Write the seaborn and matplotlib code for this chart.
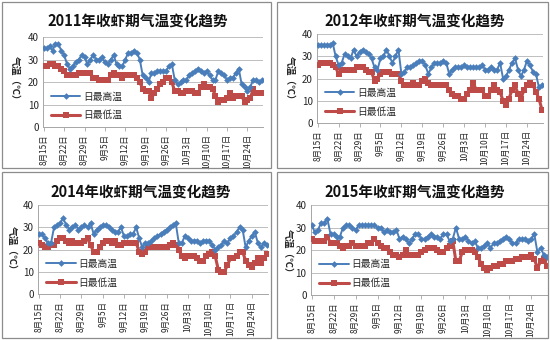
import pandas as pd
import matplotlib
matplotlib.use("Agg")
import matplotlib.pyplot as plt
import seaborn as sns
from matplotlib.patches import Rectangle

sns.set_theme(style="white")
plt.rcParams['font.family'] = ['Noto Sans CJK SC', 'DejaVu Sans']
plt.rcParams['axes.unicode_minus'] = False

# Daily categories: Aug 15 – Oct 29
dates = pd.date_range("2011-08-15", periods=76, freq="D")
categories = [f"{d.month}月{d.day}日" for d in dates]
tick_step = 7
tick_labels = categories[::tick_step]

series_high = "日最高温"
series_low = "日最低温"
y_label = "气温（℃）"
y_ticks = [0, 10, 20, 30, 40]

years = ["2011", "2012", "2014", "2015"]

high_2011 = [35, 35, 36, 34, 37, 37, 34, 32, 28, 26, 27, 29, 30, 32, 31, 28, 30, 32, 30, 30,
             31, 29, 28, 30, 32, 28, 27, 27, 30, 33, 33, 34, 33, 30, 23, 22, 20, 24, 24, 25,
             25, 25, 25, 27, 28, 21, 19, 20, 21, 21, 23, 24, 25, 26, 25, 24, 25, 23, 21, 21,
             25, 24, 23, 21, 22, 22, 24, 26, 19, 18, 16, 18, 21, 21, 20, 21]
low_2011 = [27, 27, 28, 28, 27, 27, 26, 25, 23, 23, 23, 23, 24, 24, 24, 24, 24, 22, 22, 21,
            21, 21, 21, 23, 24, 23, 23, 22, 23, 23, 23, 23, 22, 20, 17, 16, 16, 13, 15, 17,
            19, 20, 22, 22, 20, 16, 16, 15, 15, 16, 16, 16, 15, 15, 18, 19, 18, 18, 17, 14,
            11, 12, 12, 13, 15, 13, 14, 14, 14, 11, 12, 13, 17, 15, 15, 15]

high_2012 = [35, 35, 35, 35, 35, 36, 30, 26, 27, 31, 30, 29, 33, 30, 32, 33, 32, 31, 29, 25,
             24, 29, 30, 33, 30, 27, 30, 33, 22, 23, 25, 25, 26, 27, 28, 28, 26, 22, 25, 27,
             27, 27, 28, 27, 22, 24, 25, 25, 25, 26, 25, 25, 25, 25, 25, 26, 24, 24, 25, 24,
             24, 27, 20, 21, 24, 27, 29, 24, 21, 24, 28, 26, 23, 22, 16, 17]
low_2012 = [26, 27, 27, 27, 27, 26, 25, 22, 24, 24, 24, 24, 24, 25, 25, 25, 24, 23, 23, 19,
            20, 22, 23, 23, 23, 22, 22, 22, 19, 17, 17, 17, 18, 17, 17, 19, 20, 18, 17, 17,
            17, 17, 17, 17, 15, 13, 12, 12, 11, 11, 13, 15, 18, 15, 15, 15, 12, 12, 15, 17,
            15, 14, 10, 8, 11, 15, 17, 13, 11, 15, 17, 18, 17, 14, 11, 6]

high_2014 = [27, 27, 25, 23, 23, 30, 31, 32, 34, 31, 29, 30, 31, 29, 30, 31, 30, 32, 27, 29,
             30, 31, 31, 30, 29, 28, 28, 30, 26, 26, 27, 27, 30, 25, 21, 23, 23, 24, 25, 26,
             27, 28, 29, 30, 31, 32, 23, 23, 26, 25, 24, 24, 24, 23, 24, 24, 24, 22, 20, 21,
             22, 24, 23, 25, 26, 28, 30, 29, 21, 24, 26, 28, 23, 21, 23, 22]
low_2014 = [23, 22, 21, 21, 22, 22, 24, 25, 25, 24, 23, 24, 23, 23, 23, 24, 25, 22, 19, 19,
            21, 23, 24, 24, 23, 24, 22, 22, 23, 23, 23, 23, 23, 19, 18, 19, 21, 21, 21, 21,
            21, 21, 21, 22, 23, 22, 20, 17, 16, 17, 17, 17, 16, 15, 15, 17, 18, 19, 17, 11,
            10, 10, 13, 16, 16, 17, 19, 19, 15, 13, 12, 14, 16, 14, 16, 18]

high_2015 = [31, 28, 29, 32, 32, 34, 27, 27, 26, 26, 30, 31, 31, 30, 29, 31, 31, 31, 31, 31,
             31, 30, 30, 28, 29, 28, 28, 29, 25, 26, 25, 23, 25, 27, 27, 25, 25, 26, 27, 26,
             26, 25, 27, 27, 24, 25, 30, 25, 25, 26, 24, 23, 24, 21, 21, 22, 23, 21, 23, 23,
             24, 25, 26, 25, 23, 23, 25, 25, 25, 24, 25, 27, 19, 21, 18, 17]
low_2015 = [25, 24, 24, 24, 24, 26, 23, 23, 23, 22, 21, 22, 22, 23, 22, 22, 22, 22, 23, 23,
            25, 23, 22, 21, 21, 19, 18, 18, 17, 18, 20, 18, 18, 18, 18, 19, 20, 21, 21, 21,
            20, 19, 19, 21, 22, 24, 15, 15, 19, 20, 20, 20, 19, 17, 14, 12, 11, 12, 13, 13,
            14, 14, 15, 15, 15, 16, 16, 17, 17, 17, 18, 16, 12, 15, 16, 13]

panel_data = {
    "2011": (high_2011, low_2011),
    "2012": (high_2012, low_2012),
    "2014": (high_2014, low_2014),
    "2015": (high_2015, low_2015),
}

BLUE = "#4A7EBB"
RED = "#BE4B48"
GRID = "#BFBFBF"
AXIS = "#A6A6A6"

fig = plt.figure(figsize=(5.5, 3.4), dpi=100)

# (plot-area rect, panel frame rect, title position, y-label position) in figure fractions
layout = {
    "2011": ([0.078, 0.626, 0.400, 0.265], [0.004, 0.506, 0.489, 0.488], (0.251, 0.938), (0.027, 0.765)),
    "2012": ([0.576, 0.638, 0.411, 0.262], [0.504, 0.506, 0.493, 0.488], (0.755, 0.938), (0.527, 0.765)),
    "2014": ([0.069, 0.135, 0.418, 0.262], [0.004, 0.006, 0.489, 0.488], (0.255, 0.435), (0.022, 0.265)),
    "2015": ([0.565, 0.132, 0.431, 0.265], [0.504, 0.006, 0.493, 0.488], (0.755, 0.435), (0.524, 0.256)),
}

for year in years:
    highs, lows = panel_data[year]
    rect, frame, title_xy, ylab_xy = layout[year]

    fig.add_artist(Rectangle((frame[0], frame[1]), frame[2], frame[3],
                             transform=fig.transFigure, fill=False,
                             edgecolor="#8C8C8C", linewidth=0.9))

    ax = fig.add_axes(rect)
    df = pd.DataFrame({"idx": range(len(categories)), "high": highs, "low": lows})

    sns.lineplot(data=df, x="idx", y="low", ax=ax, color=RED, linewidth=2.2,
                 marker="s", markersize=4.5, markeredgewidth=0, label=series_low, zorder=3)
    sns.lineplot(data=df, x="idx", y="high", ax=ax, color=BLUE, linewidth=1.4,
                 marker="D", markersize=3.4, markeredgewidth=0, label=series_high, zorder=4)

    ax.set_ylim(0, 40)
    ax.set_yticks(y_ticks)
    ax.set_xlim(-0.3, len(categories) - 0.7)
    ax.set_xticks(range(0, len(categories), tick_step))
    ax.set_xticklabels(tick_labels, rotation=90, fontsize=6, color="#262626")
    ax.tick_params(axis="y", labelsize=7, colors="#262626", length=0, pad=3)
    ax.tick_params(axis="x", length=3, width=0.6, color=AXIS, pad=2, bottom=True)
    ax.set_xlabel("")
    ax.set_ylabel("")
    ax.grid(axis="y", color=GRID, linewidth=0.7)
    ax.set_axisbelow(True)
    for side in ("top", "right"):
        ax.spines[side].set_visible(False)
    ax.spines["left"].set_color(AXIS)
    ax.spines["bottom"].set_color(AXIS)
    ax.spines["left"].set_linewidth(0.7)
    ax.spines["bottom"].set_linewidth(0.7)

    handles, labels = ax.get_legend_handles_labels()
    order = [labels.index(series_high), labels.index(series_low)]
    ax.legend([handles[i] for i in order], [labels[i] for i in order],
              loc="upper left", bbox_to_anchor=(0.02, 0.44), frameon=False,
              fontsize=7, handlelength=3.0, handletextpad=0.3, labelspacing=0.9,
              borderaxespad=0)

    fig.text(title_xy[0], title_xy[1], f"{year}年收虾期气温变化趋势",
             ha="center", va="center", fontsize=10.5, fontweight="bold", color="#111111")
    fig.text(ylab_xy[0], ylab_xy[1], y_label, rotation=270, ha="center", va="center",
             fontsize=7, fontweight="bold", color="#262626")

fig.savefig("out.png", dpi=100, facecolor="white")
